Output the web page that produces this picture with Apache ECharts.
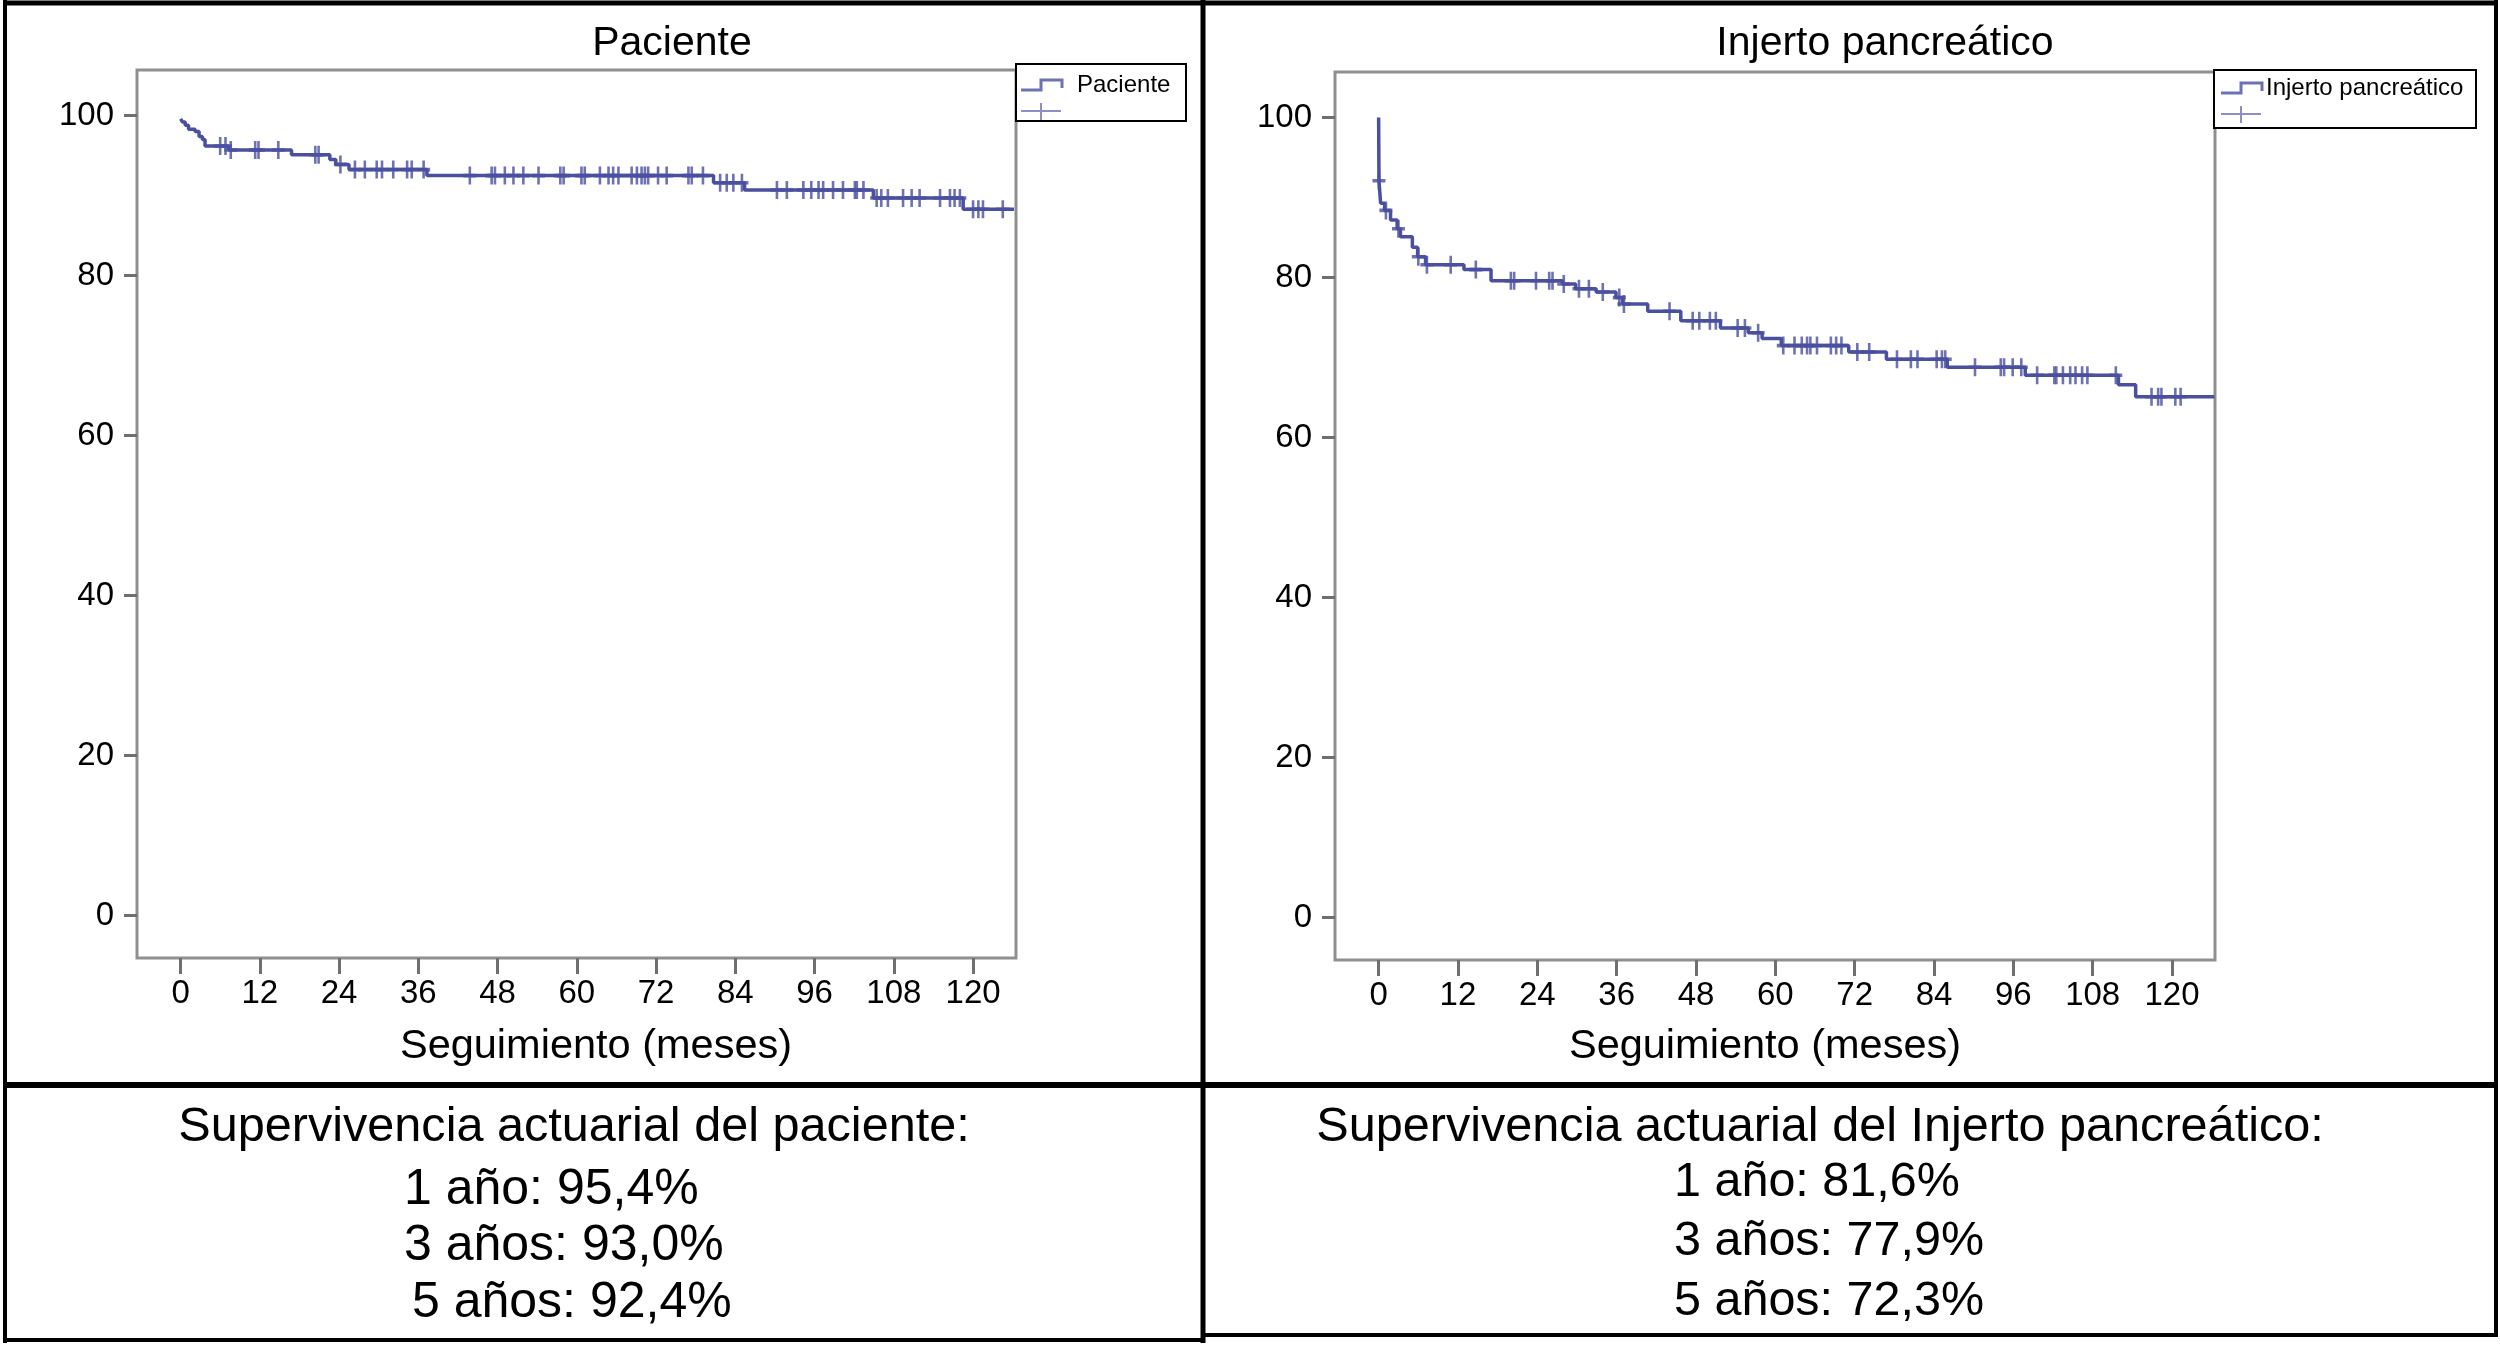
<!DOCTYPE html>
<html>
<head>
<meta charset="utf-8">
<script src="https://cdn.jsdelivr.net/npm/echarts@6/dist/echarts.min.js"></script>
<style>
html,body{margin:0;padding:0;background:#fff;}
#c{width:2500px;height:1345px;}
</style>
</head>
<body>
<div id="c"></div>
<script>
// ---- data ----
const mesesTicks = [0, 12, 24, 36, 48, 60, 72, 84, 96, 108, 120];
const porcentajeTicks = [0, 20, 40, 60, 80, 100];

const pacienteTitulo = 'Paciente';
const pacienteTiempo = [0, 0.3, 0.7, 1.2, 2.2, 2.8, 3.3, 3.7, 7.3, 16.8, 22.6, 23.5, 25.5, 37.3, 80.7, 85.4, 104.9, 118.5, 126.2];
const pacienteSuperv = [99.6, 99.2, 98.8, 98.3, 98.0, 97.4, 97.0, 96.2, 95.7, 95.1, 94.5, 93.9, 93.25, 92.5, 91.6, 90.7, 89.7, 88.3, 88.3];
const pacienteCensura = [6.0, 6.8, 7.6, 11.3, 11.8, 14.8, 20.4, 20.9, 24.2, 26.4, 27.9, 29.7, 30.5, 32.2, 34.3, 35.0, 36.8,
  43.8, 47.1, 47.6, 49.1, 50.4, 51.9, 54.2, 57.5, 58.0, 60.7, 61.2, 63.5, 64.8, 65.5, 66.3, 68.3, 69.1, 69.8, 70.3, 70.8,
  72.3, 73.6, 76.9, 77.4, 79.1, 81.7, 82.7, 83.7, 85.0, 90.3, 91.8, 94.3, 95.5, 96.6, 97.3, 98.8, 100.3, 102.1, 102.4,
  103.4, 105.4, 106.1, 107.1, 109.4, 110.7, 111.9, 115.0, 116.5, 117.2, 118.0, 120.0, 120.8, 121.5, 124.5];

const injertoTitulo = 'Injerto pancreático';
const injertoTiempo = [0, 0.05, 0.3, 0.9, 1.8, 2.8, 3.3, 5.1, 5.9, 7.1, 12.9, 17.0, 27.8, 29.8, 32.9, 35.9, 36.9, 40.7, 45.7,
  51.7, 55.9, 58.0, 60.9, 71.1, 76.8, 86.0, 97.8, 111.9, 114.5, 126.4];
const injertoSuperv = [100, 92.1, 89.3, 88.4, 87.2, 86.1, 85.1, 83.8, 82.6, 81.6, 81.0, 79.6, 79.2, 78.6, 78.2, 77.5, 76.7, 75.8, 74.6,
  73.7, 73.1, 72.4, 71.5, 70.7, 69.8, 68.8, 67.8, 66.6, 65.1, 65.1];
const injertoCensura = [0.05, 1.1, 3.0, 6.0, 7.3, 10.9, 14.7, 20.0, 20.5, 23.8, 25.8, 26.3, 28.0, 30.3, 31.8, 33.9, 36.4, 37.1,
  44.0, 47.5, 48.5, 50.1, 51.0, 54.3, 55.4, 57.4, 61.2, 62.9, 64.0, 64.8, 65.3, 66.3, 68.4, 69.2, 70.0, 72.4, 74.2, 78.4,
  80.5, 81.5, 84.4, 85.2, 85.7, 90.2, 94.1, 94.6, 95.9, 97.2, 99.6, 102.2, 102.5, 103.5, 104.6, 105.4, 106.4, 107.2,
  111.5, 116.9, 117.9, 118.4, 120.5, 121.3];

const ejeXTitulo = 'Seguimiento (meses)';
const pacienteResumenTitulo = 'Supervivencia actuarial del paciente:';
const pacienteResumen = ['1 año: 95,4%', '3 años: 93,0%', '5 años: 92,4%'];
const injertoResumenTitulo = 'Supervivencia actuarial del Injerto pancreático:';
const injertoResumen = ['1 año: 81,6%', '3 años: 77,9%', '5 años: 72,3%'];

// ---- helpers ----
const FONT = '"Liberation Sans", Arial, Helvetica, sans-serif';
const LINE = '#4a4f9f';
const LEG = '#6e72b2';
function pairs(t, v) { return t.map((x, i) => [x, v[i]]); }
function survAt(t, v, x) { let s = v[0]; for (let i = 0; i < t.length; i++) { if (t[i] <= x) s = v[i]; } return s; }
function marks(t, v, c) { return c.map(x => [x, survAt(t, v, x)]); }
const plus = 'path://M-2,-10H2V-2H10V2H2V10H-2V2H-10V-2H-2Z';

function xAx(g) {
  return {
    type: 'value', gridIndex: g, min: -6.6, max: 126.5,
    axisLine: { show: false, onZero: false },
    splitLine: { show: false },
    axisTick: { show: true, inside: false, customValues: mesesTicks, length: 16, lineStyle: { color: '#6f6f6f', width: 3 } },
    axisLabel: { customValues: mesesTicks, fontSize: 33, color: '#000', fontFamily: FONT, margin: 19 }
  };
}
function yAx(g) {
  return {
    type: 'value', gridIndex: g, min: -5.3, max: 105.7,
    axisLine: { show: false, onZero: false },
    splitLine: { show: false },
    axisTick: { show: true, inside: false, customValues: porcentajeTicks, length: 13, lineStyle: { color: '#6f6f6f', width: 3 } },
    axisLabel: { customValues: porcentajeTicks, fontSize: 33, color: '#000', fontFamily: FONT, margin: 23 }
  };
}
function txt(text, x, y, size, align) {
  return { type: 'text', z: 100, style: { text: text, x: x, y: y, fill: '#000', font: size + 'px ' + FONT, align: align || 'center', verticalAlign: 'middle' } };
}
function ln(x1, y1, x2, y2, w, color) {
  return { type: 'line', z: 100, shape: { x1: x1, y1: y1, x2: x2, y2: y2 }, style: { stroke: color || '#000', lineWidth: w } };
}
function legend(x, y, w, h, label, ix, r1, r2, tx) {
  return [
    { type: 'rect', z: 90, shape: { x: x, y: y, width: w, height: h }, style: { fill: '#fff', stroke: '#000', lineWidth: 2 } },
    { type: 'polyline', z: 100, shape: { points: [[ix, r1 + 5], [ix + 20, r1 + 5], [ix + 20, r1 - 5], [ix + 41, r1 - 5], [ix + 41, r1 + 3]] }, style: { stroke: LEG, lineWidth: 3, fill: null } },
    ln(ix, r2, ix + 40, r2, 2, '#8c8fc4'),
    ln(ix + 20, r2 - 8, ix + 20, Math.min(r2 + 9, y + h - 1), 2, '#8c8fc4'),
    txt(label, tx, r1, 24, 'left')
  ];
}

const chart = echarts.init(document.getElementById('c'), null, { renderer: 'canvas' });

const graphics = [].concat(
  [
    txt(pacienteTitulo, 672, 44, 41),
    txt(injertoTitulo, 1885, 44, 41),
    txt(ejeXTitulo, 596, 1047, 41.5),
    txt(ejeXTitulo, 1765, 1047, 41.5),
    txt(pacienteResumenTitulo, 574, 1128, 48.6),
    txt(pacienteResumen[0], 404, 1190, 50, 'left'),
    txt(pacienteResumen[1], 404, 1246, 50, 'left'),
    txt(pacienteResumen[2], 412, 1303, 50, 'left'),
    txt(injertoResumenTitulo, 1820, 1128, 48.6),
    txt(injertoResumen[0], 1674, 1183, 48.5, 'left'),
    txt(injertoResumen[1], 1674, 1242, 48.5, 'left'),
    txt(injertoResumen[2], 1674, 1302, 48.5, 'left'),
    // panel borders
    ln(3, 3, 2498, 3, 5),
    ln(5, 0, 5, 1343, 4),
    ln(1203, 0, 1203, 1343, 5),
    ln(2496, 0, 2496, 1337, 4),
    ln(3, 1085, 2498, 1085, 6),
    ln(3, 1340, 1205, 1340, 4),
    ln(1201, 1335, 2498, 1335, 4)
  ],
  legend(1016, 64, 170, 57, pacienteTitulo, 1021, 85, 111, 1077),
  legend(2214, 70, 262, 58, injertoTitulo, 2221, 88, 114, 2266)
);

chart.setOption({
  animation: false,
  backgroundColor: '#fff',
  grid: [
    { left: 137, top: 70, width: 879, height: 888, show: true, borderColor: '#8f8f8f', borderWidth: 3, backgroundColor: '#fff' },
    { left: 1335, top: 72, width: 880, height: 888, show: true, borderColor: '#8f8f8f', borderWidth: 3, backgroundColor: '#fff' }
  ],
  xAxis: [xAx(0), xAx(1)],
  yAxis: [yAx(0), yAx(1)],
  series: [
    { name: pacienteTitulo, type: 'line', xAxisIndex: 0, yAxisIndex: 0, step: 'end', symbol: 'none',
      lineStyle: { color: LINE, width: 3.5 }, data: pairs(pacienteTiempo, pacienteSuperv) },
    { name: pacienteTitulo + ' censurado', type: 'scatter', xAxisIndex: 0, yAxisIndex: 0, symbol: plus, symbolSize: [13, 18],
      itemStyle: { color: LINE }, data: marks(pacienteTiempo, pacienteSuperv, pacienteCensura) },
    { name: injertoTitulo, type: 'line', xAxisIndex: 1, yAxisIndex: 1, step: 'end', symbol: 'none',
      lineStyle: { color: LINE, width: 3.5 }, data: pairs(injertoTiempo, injertoSuperv) },
    { name: injertoTitulo + ' censurado', type: 'scatter', xAxisIndex: 1, yAxisIndex: 1, symbol: plus, symbolSize: [13, 18],
      itemStyle: { color: LINE }, data: marks(injertoTiempo, injertoSuperv, injertoCensura) }
  ],
  graphic: graphics
});
</script>
</body>
</html>
